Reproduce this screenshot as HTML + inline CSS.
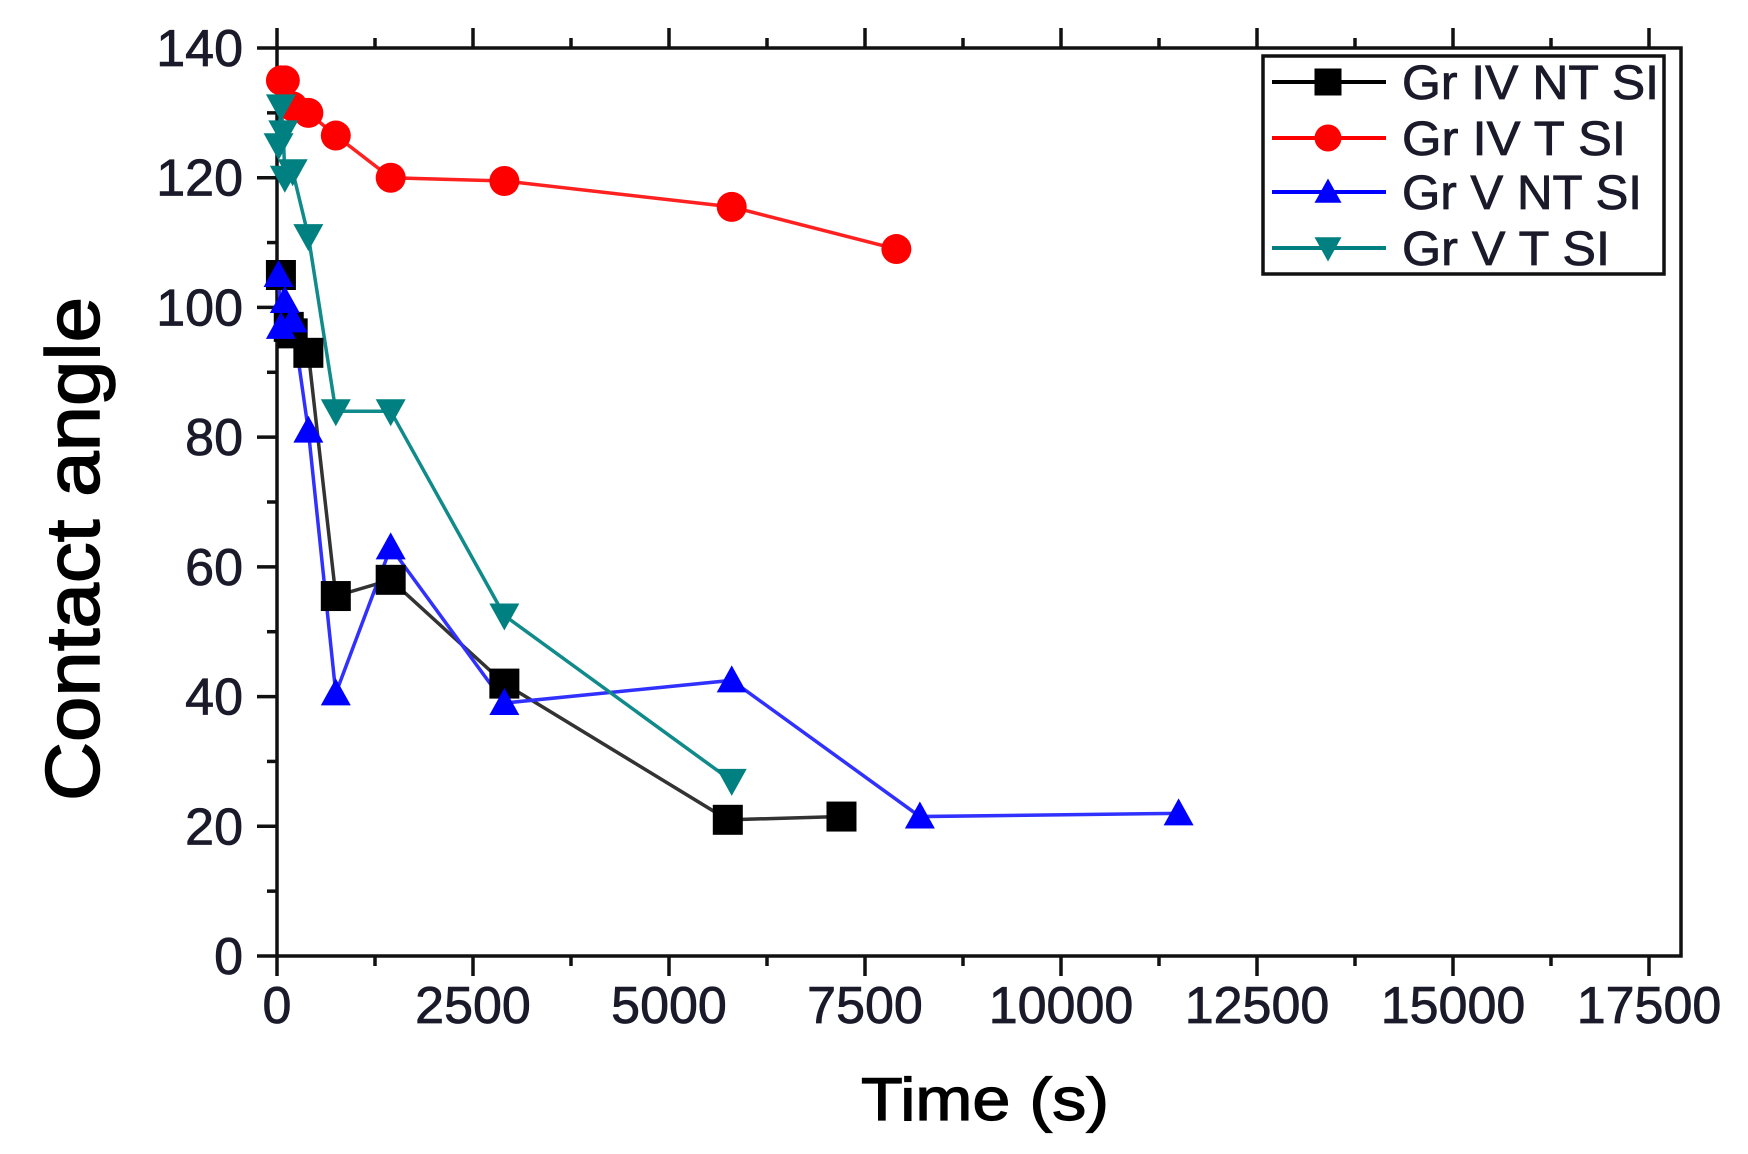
<!DOCTYPE html>
<html><head><meta charset="utf-8"><style>
html,body{margin:0;padding:0;background:#fff;}
svg{display:block;}
text{font-family:"Liberation Sans",sans-serif;fill:#1a1a2a;}
</style></head><body>
<svg id="s" width="1748" height="1154" viewBox="0 0 1748 1154" xmlns="http://www.w3.org/2000/svg"></svg>
<script>
const s=document.getElementById('s');
const NS='http://www.w3.org/2000/svg';
function el(t,a,txt){const e=document.createElementNS(NS,t);for(const k in a)e.setAttribute(k,a[k]);if(txt!==undefined)e.textContent=txt;s.appendChild(e);return e;}
const X0=277,XS=196/2500,Y0=956,YS=(956-48)/140;
const X=v=>X0+v*XS, Y=v=>Y0-v*YS;
const R=1681,T=48;
el('rect',{x:X0,y:T,width:R-X0,height:Y0-T,fill:'none',stroke:'#111','stroke-width':3.5});
for(let v=0;v<=17500;v+=1250){const x=X(v);const maj=v%2500==0;const L=maj?20:10;
 el('line',{x1:x,y1:Y0,x2:x,y2:Y0+L,stroke:'#111','stroke-width':3.5});
 el('line',{x1:x,y1:T,x2:x,y2:T-L,stroke:'#111','stroke-width':3.5});
 if(maj)el('text',{x:x,y:1023,'font-size':52,'text-anchor':'middle','stroke':'#1a1a2a','stroke-width':0.8},String(v));}
for(let v=0;v<=140;v+=10){const y=Y(v);const maj=v%20==0;const L=maj?20:10;
 el('line',{x1:X0,y1:y,x2:X0-L,y2:y,stroke:'#111','stroke-width':3.5});
 if(maj)el('text',{x:243,y:y+18,'font-size':52,'text-anchor':'end','stroke':'#1a1a2a','stroke-width':0.8},String(v));}
el('text',{x:0,y:0,'font-size':76,'text-anchor':'middle',transform:'translate(99,549) rotate(-90)',textLength:504,lengthAdjust:'spacingAndGlyphs',style:'fill:#000',stroke:'#000','stroke-width':1.5},'Contact angle');
el('text',{x:985,y:1120,'font-size':60,'text-anchor':'middle',textLength:248,lengthAdjust:'spacingAndGlyphs',style:'fill:#000',stroke:'#000','stroke-width':1.2},'Time (s)');
function marker(type,x,y,c,sz){
 const h=sz/2;
 if(type=='sq')el('rect',{x:x-h,y:y-h,width:sz,height:sz,fill:c});
 else if(type=='ci')el('circle',{cx:x,cy:y,r:h,fill:c});
 else if(type=='up')el('polygon',{points:`${x},${y-h} ${x+h},${y+h*0.8} ${x-h},${y+h*0.8}`,fill:c});
 else el('polygon',{points:`${x},${y+h} ${x+h},${y-h*0.8} ${x-h},${y-h*0.8}`,fill:c});
}
const series=[
 {c:'#000',lc:'#333',m:'sq',d:[[50,105],[150,97],[200,96],[400,93],[750,55.5],[1450,58],[2900,42],[5750,21],[7200,21.5]]},
 {c:'#ff0000',lc:'#ff2020',m:'ci',d:[[50,135],[100,135],[200,131],[400,130],[750,126.5],[1450,120],[2900,119.5],[5800,115.5],[7900,109]]},
 {c:'#0000ff',lc:'#3030ff',m:'up',d:[[20,105],[50,97],[100,101],[200,98],[400,81],[750,40.5],[1450,63],[2900,39],[5800,42.5],[8200,21.5],[11500,22]]},
 {c:'#008080',lc:'#108a8a',m:'dn',d:[[20,125],[50,131],[80,127],[100,120],[200,121],[400,111],[750,84],[1450,84],[2900,52.5],[5800,27]]}
];
series.forEach(S=>{el('polyline',{points:S.d.map(p=>X(p[0])+','+Y(p[1])).join(' '),fill:'none',stroke:S.lc,'stroke-width':3.5});});
series.forEach(S=>{S.d.forEach(p=>marker(S.m,X(p[0]),Y(p[1]),S.c,30));});
el('rect',{x:1263,y:56,width:401,height:218,fill:'#fff',stroke:'#111','stroke-width':3.5});
const names=['Gr IV NT SI','Gr IV T SI','Gr V NT SI','Gr V T SI'];
const lens=[257,224,240,208];
[82,138,192,248].forEach((y,i)=>{const S=series[i];
 el('line',{x1:1272,y1:y,x2:1386,y2:y,stroke:S.c,'stroke-width':4});
 marker(S.m,1328,y,S.c,27);
 el('text',{x:1402,y:y+17,'font-size':48,textLength:lens[i],lengthAdjust:'spacingAndGlyphs','stroke':'#1a1a2a','stroke-width':0.8},names[i]);
});
</script>
</body></html>
